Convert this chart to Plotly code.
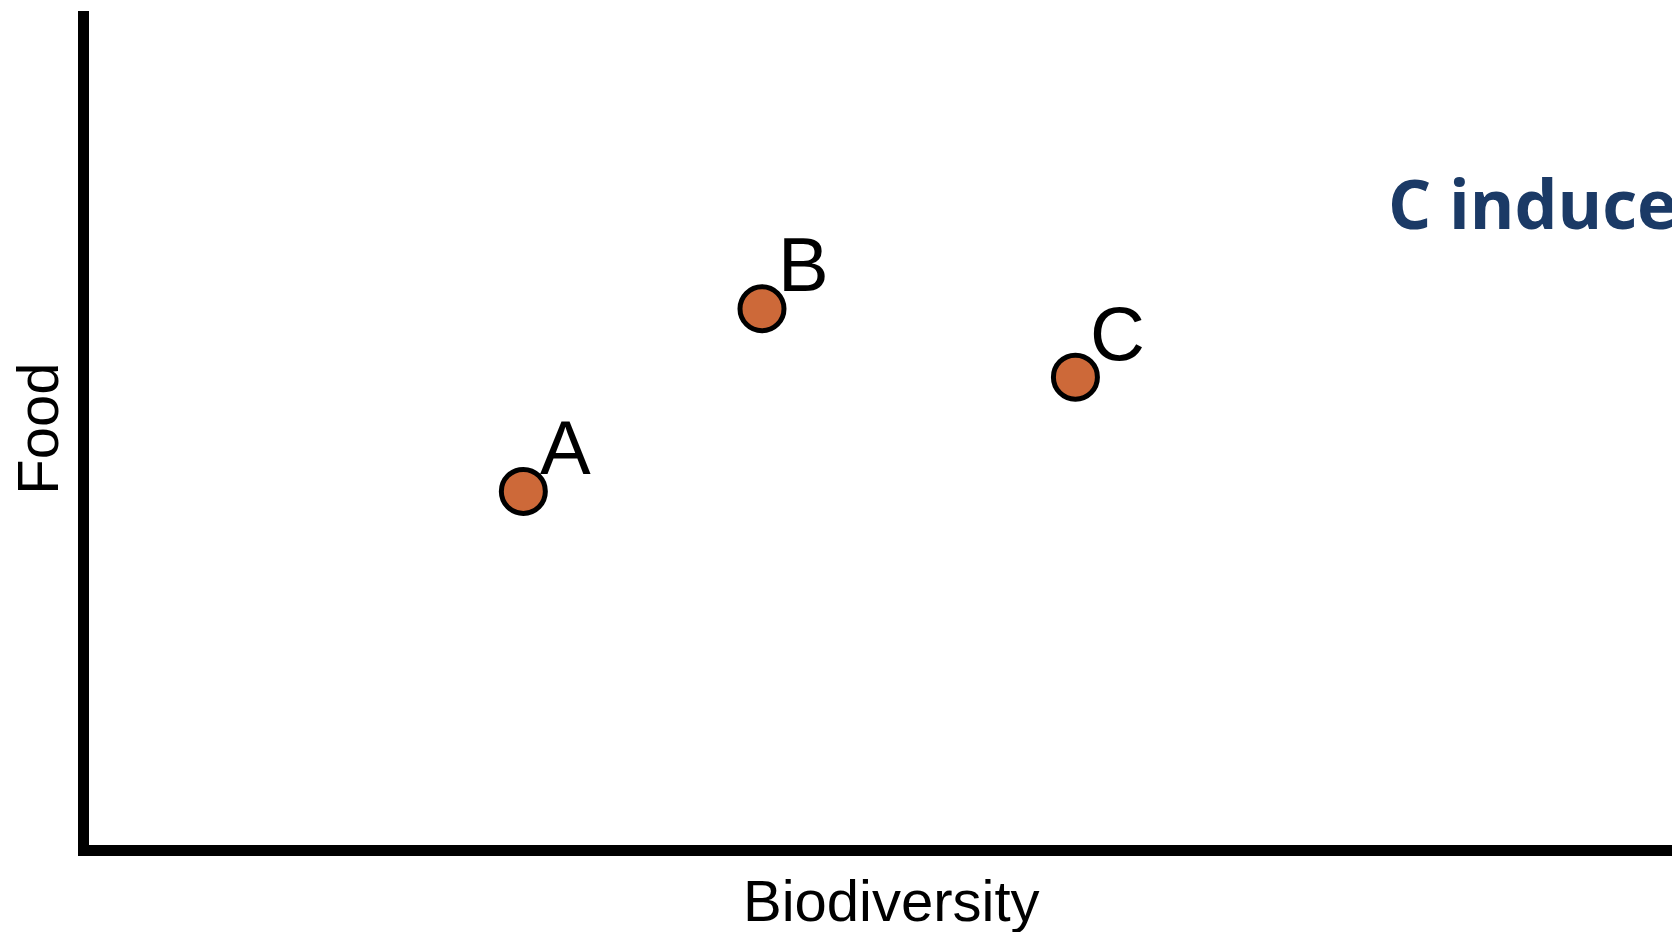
import plotly.graph_objects as go

# scenario points (arbitrary units)
labels = ["A", "B", "C"]
biodiversity = [2.73, 4.23, 6.20]
food = [4.24, 6.43, 5.61]

x_title = "Biodiversity"
y_title = "Food"
note_text = "C induces"

# the page body has an 8px margin, so lay out the figure in screen pixels
OFF = 8
W, H = 1680, 932
left_px, top_px, bottom_px = 89, 11, 845.5   # plot area edges on screen
ml = left_px - OFF
mt = top_px - OFF
mb = H - (bottom_px - OFF)
mr = OFF
pw, ph = W - ml - mr, H - mt - mb


def px(x, y):
    # screen pixel -> paper fraction
    return (x - left_px) / pw, (bottom_px - y) / ph


fig = go.Figure()
fig.add_trace(go.Scatter(
    x=biodiversity, y=food, mode="markers",
    marker=dict(size=44, color="#CD6939", line=dict(color="black", width=5)),
    hoverinfo="skip", showlegend=False,
))

annotations = []
for lab, xv, yv in zip(labels, biodiversity, food):
    annotations.append(dict(
        x=xv, y=yv, xref="x", yref="y", text=lab, showarrow=False,
        xanchor="center", yanchor="middle", xshift=42, yshift=44,
        font=dict(family="Liberation Sans, Arial", size=76, color="black"),
    ))

bx, by = px(891, 901)
annotations.append(dict(
    x=bx, y=by, xref="paper", yref="paper", text=x_title, showarrow=False,
    xanchor="center", yanchor="middle",
    font=dict(family="Liberation Sans, Arial", size=58, color="black"),
))
fx, fy = px(38, 429)
annotations.append(dict(
    x=fx, y=fy, xref="paper", yref="paper", text=y_title, showarrow=False,
    xanchor="center", yanchor="middle", textangle=-90,
    font=dict(family="Liberation Sans, Arial", size=58, color="black"),
))
nx, ny = px(1386, 203)
annotations.append(dict(
    x=nx, y=ny, xref="paper", yref="paper", text="<b>" + note_text + "</b>",
    showarrow=False, xanchor="left", yanchor="middle",
    font=dict(family="Open Sans", size=68, color="#1B3A66"),
))

axis_style = dict(
    showgrid=False, zeroline=False, showticklabels=False, ticks="",
    showline=True, linecolor="black", linewidth=11, range=[0, 10],
    fixedrange=True,
)

fig.update_layout(
    width=W, height=H,
    margin=dict(l=ml, r=mr, t=mt, b=mb),
    paper_bgcolor="white", plot_bgcolor="white",
    xaxis=axis_style, yaxis=axis_style,
    annotations=annotations,
)

fig.write_html("out.html", config={"displayModeBar": False},
               default_width="1680px", default_height="932px")
